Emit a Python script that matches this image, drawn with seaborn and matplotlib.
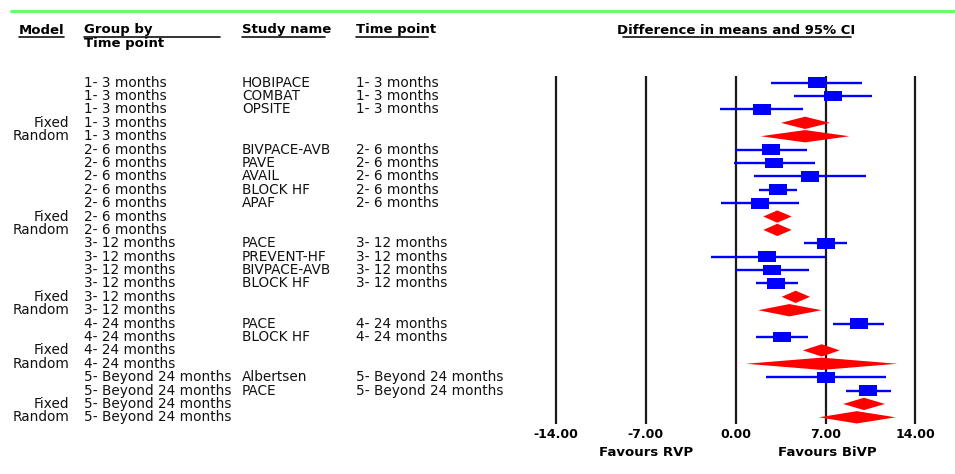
import numpy as np
import pandas as pd
import matplotlib
matplotlib.use("Agg")
import matplotlib.pyplot as plt
import matplotlib.transforms as mtrans
from matplotlib.lines import Line2D
import seaborn as sns

# ---------------- data ----------------
model = ["", "", "", "Fixed", "Random",
         "", "", "", "", "", "Fixed", "Random",
         "", "", "", "", "Fixed", "Random",
         "", "", "Fixed", "Random",
         "", "", "Fixed", "Random"]
group = (["1- 3 months"] * 5 + ["2- 6 months"] * 7 + ["3- 12 months"] * 6 +
         ["4- 24 months"] * 4 + ["5- Beyond 24 months"] * 4)
study = ["HOBIPACE", "COMBAT", "OPSITE", "", "",
         "BIVPACE-AVB", "PAVE", "AVAIL", "BLOCK HF", "APAF", "", "",
         "PACE", "PREVENT-HF", "BIVPACE-AVB", "BLOCK HF", "", "",
         "PACE", "BLOCK HF", "", "",
         "Albertsen", "PACE", "", ""]
timepoint = [g if s else "" for g, s in zip(group, study)]
effect = [6.36, 7.60, 2.02, 5.40, 5.40,
          2.72, 2.98, 5.81, 3.30, 1.89, 3.24, 3.24,
          7.03, 2.47, 2.80, 3.17, 4.67, 4.18,
          9.60, 3.61, 6.70, 6.70,
          7.01, 10.33, 9.99, 9.43]
lower = [2.75, 4.57, -1.22, 3.53, 1.95,
         -0.05, -0.16, 1.45, 1.84, -1.15, 2.15, 2.15,
         5.32, -1.95, 0.02, 1.58, 3.58, 1.76,
         7.60, 1.58, 5.24, 0.80,
         2.36, 8.59, 8.38, 6.49]
upper = [9.86, 10.64, 5.24, 7.35, 8.85,
         5.55, 6.20, 10.13, 4.80, 4.90, 4.36, 4.36,
         8.70, 6.96, 5.69, 4.83, 5.79, 6.70,
         11.58, 5.63, 8.10, 12.59,
         11.69, 12.07, 11.63, 12.46]
ticks = [-14, -7, 0, 7, 14]
tick_labels = [f"{t:.2f}" for t in ticks]
favour_left, favour_right = "Favours RVP", "Favours BiVP"

df = pd.DataFrame({"model": model, "group": group, "study": study,
                   "timepoint": timepoint, "effect": effect,
                   "lower": lower, "upper": upper})
df["row"] = np.arange(len(df))
studies = df[df["model"] == ""]
pooled = df[df["model"] != ""]

# ---------------- figure ----------------
sns.set_theme(style="white")
plt.rcParams["font.family"] = ["DejaVu Sans"]
plt.rcParams["text.color"] = "black"
plt.rcParams["xtick.color"] = "black"

W, H = 955, 474
fig = plt.figure(figsize=(W / 100, H / 100), dpi=100)
ax = fig.add_axes([540 / W, 1 - 424 / H, 415 / W, 348 / H])

px_unit = 12.836
zero_px = 735.7
ax.set_xlim((540 - zero_px) / px_unit, (955 - zero_px) / px_unit)
ax.set_ylim(len(df) - 0.5, -0.5)

for t in ticks:
    ax.axvline(t, color="#1a1a1a", lw=1.6, zorder=1)

# CI lines
ax.hlines(studies["row"], studies["lower"], studies["upper"],
          color="#0000ff", lw=1.7, zorder=2)
# study squares
rect = [(-1, -0.6), (1, -0.6), (1, 0.6), (-1, 0.6), (-1, -0.6)]
sns.scatterplot(data=studies, x="effect", y="row", marker=rect, s=168,
                color="#0000ff", edgecolor="none", linewidth=0, ax=ax,
                zorder=3, legend=False)
# pooled diamonds
hh = 0.46
for _, r in pooled.iterrows():
    ax.fill([r["lower"], r["effect"], r["upper"], r["effect"]],
            [r["row"], r["row"] - hh, r["row"], r["row"] + hh],
            color="#ff0000", lw=0, zorder=3)

for s in ax.spines.values():
    s.set_visible(False)
ax.set_yticks([])
ax.set_xticks(ticks)
ax.set_xticklabels(tick_labels, fontsize=9, fontweight="bold", color="black")
ax.tick_params(axis="x", length=0, pad=3)
ax.set_xlabel("")
ax.set_ylabel("")

# text columns
tr = mtrans.blended_transform_factory(fig.transFigure, ax.transData)
fs = 9.8
tc = "#111111"
for _, r in df.iterrows():
    if r["model"]:
        ax.text(69 / W, r["row"], r["model"], transform=tr, ha="right",
                va="center", fontsize=fs, color=tc)
    ax.text(84 / W, r["row"], r["group"], transform=tr, ha="left",
            va="center", fontsize=fs, color=tc)
    if r["study"]:
        ax.text(242 / W, r["row"], r["study"], transform=tr, ha="left",
                va="center", fontsize=fs, color=tc)
        ax.text(356 / W, r["row"], r["timepoint"], transform=tr, ha="left",
                va="center", fontsize=fs, color=tc)

# headers
hfs = 9.5
def fy(p):
    return 1 - p / H

fig.text(19 / W, fy(30), "Model", ha="left", va="center", fontsize=hfs, fontweight="bold")
fig.text(84 / W, fy(30), "Group by", ha="left", va="center", fontsize=hfs, fontweight="bold")
fig.text(84 / W, fy(43), "Time point", ha="left", va="center", fontsize=hfs, fontweight="bold")
fig.text(242 / W, fy(30), "Study name", ha="left", va="center", fontsize=hfs, fontweight="bold")
fig.text(356 / W, fy(30), "Time point", ha="left", va="center", fontsize=hfs, fontweight="bold")
fig.text(736.5 / W, fy(30), "Difference in means and 95% CI", ha="center",
         va="center", fontsize=hfs, fontweight="bold")

for x0, x1 in [(19, 64), (84, 220), (242, 325), (356, 428), (623, 851)]:
    fig.add_artist(Line2D([x0 / W, x1 / W], [fy(36.5), fy(36.5)],
                          transform=fig.transFigure, color="#111111", lw=1.2))

# top green rule
fig.add_artist(Line2D([11 / W, 1], [fy(10.7), fy(10.7)],
                      transform=fig.transFigure, color="#66ff66", lw=2.2))

# favours labels
trx = mtrans.blended_transform_factory(ax.transData, fig.transFigure)
ax.text(-7, fy(453), favour_left, transform=trx, ha="center", va="center",
        fontsize=9.5, fontweight="bold")
ax.text(7.1, fy(453), favour_right, transform=trx, ha="center", va="center",
        fontsize=9.5, fontweight="bold")

fig.savefig("out.png", dpi=100, facecolor="white")
